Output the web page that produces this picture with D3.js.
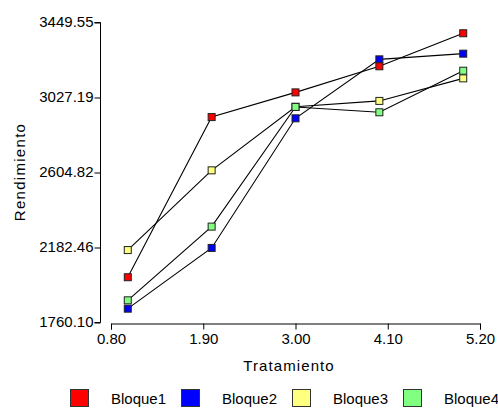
<!DOCTYPE html>
<html>
<head>
<meta charset="utf-8">
<script src="https://cdn.jsdelivr.net/npm/d3@7"></script>
<style>
html,body{margin:0;padding:0;background:#fff;}
svg{display:block;}
text{font-family:"Liberation Sans",Arial,sans-serif;fill:#000;}
</style>
</head>
<body>
<div id="chart"></div>
<script>
const tratamiento = [1, 2, 3, 4, 5];
const seriesNames = ["Bloque1", "Bloque2", "Bloque3", "Bloque4"];
const bloque1 = [2015, 2917, 3056, 3203, 3389];
const bloque2 = [1838, 2180, 2910, 3242, 3274];
const bloque3 = [2168, 2617, 2975, 3008, 3135];
const bloque4 = [1885, 2300, 2974, 2944, 3178];
const seriesColors = ["#ff0000", "#0000ff", "#ffff80", "#80ff80"];
const yTicks = [1760.10, 2182.46, 2604.82, 3027.19, 3449.55];
const yTickLabels = ["1760.10", "2182.46", "2604.82", "3027.19", "3449.55"];
const xTicks = [0.80, 1.90, 3.00, 4.10, 5.20];
const xTickLabels = ["0.80", "1.90", "3.00", "4.10", "5.20"];

const W = 498, H = 408;
const svg = d3.select("#chart").append("svg").attr("width", W).attr("height", H);

const x = d3.scaleLinear().domain([0.8, 5.2]).range([111, 480]);
const y = d3.scaleLinear().domain([1760.10, 3449.55]).range([322.5, 22.5]);

// Y axis
const yAxis = d3.axisLeft(y).tickValues(yTicks).tickFormat((d, i) => yTickLabels[i]).tickSize(6).tickPadding(1);
const gy = svg.append("g").attr("transform", "translate(100.5,0)").call(yAxis);
gy.select(".domain").attr("stroke", "#000").attr("d", `M-6,${y(yTicks[0])}H0V${y(yTicks[4])}H-6`);
gy.selectAll(".tick line").attr("stroke", "#000");
gy.selectAll(".tick text").attr("font-size", "15px").attr("font-family", "Liberation Sans, Arial, sans-serif").attr("dy", "0.28em");

// X axis
const xAxis = d3.axisBottom(x).tickValues(xTicks).tickFormat((d, i) => xTickLabels[i]).tickSize(6).tickPadding(4);
const gx = svg.append("g").attr("transform", "translate(0,323.5)").call(xAxis);
gx.select(".domain").attr("stroke", "#000");
gx.selectAll(".tick line").attr("stroke", "#000");
gx.selectAll(".tick text").attr("font-size", "15px").attr("font-family", "Liberation Sans, Arial, sans-serif");

// Axis titles
svg.append("text").attr("x", 289).attr("y", 371).attr("text-anchor", "middle")
  .attr("font-size", "15px").attr("letter-spacing", "1.1px").text("Tratamiento");
svg.append("text").attr("transform", "translate(25,172) rotate(-90)").attr("text-anchor", "middle")
  .attr("font-size", "15px").attr("letter-spacing", "1.3px").text("Rendimiento");

const allSeries = [bloque1, bloque2, bloque3, bloque4];
const line = d3.line().x((d, i) => x(tratamiento[i])).y(d => y(d));

const plot = svg.append("g");
allSeries.forEach(s => {
  plot.append("path").attr("d", line(s)).attr("fill", "none").attr("stroke", "#000").attr("stroke-width", 1.1);
});

const drawOrder = [1, 0, 2, 3];
drawOrder.forEach(k => {
  plot.selectAll(null).data(allSeries[k]).enter().append("rect")
    .attr("x", (d, i) => x(tratamiento[i]) - 3.5)
    .attr("y", d => y(d) - 3.5)
    .attr("width", 7).attr("height", 7)
    .attr("fill", seriesColors[k]).attr("stroke", "#222").attr("stroke-width", 1);
});

// Legend
const legend = svg.append("g");
seriesNames.forEach((name, k) => {
  const lx = 70 + k * 111;
  legend.append("rect").attr("x", lx + 0.5).attr("y", 389.5).attr("width", 18).attr("height", 17)
    .attr("fill", seriesColors[k]).attr("stroke", "#333").attr("stroke-width", 1);
  legend.append("text").attr("x", lx + 41).attr("y", 404).attr("font-size", "15px").text(name);
});
</script>
</body>
</html>
